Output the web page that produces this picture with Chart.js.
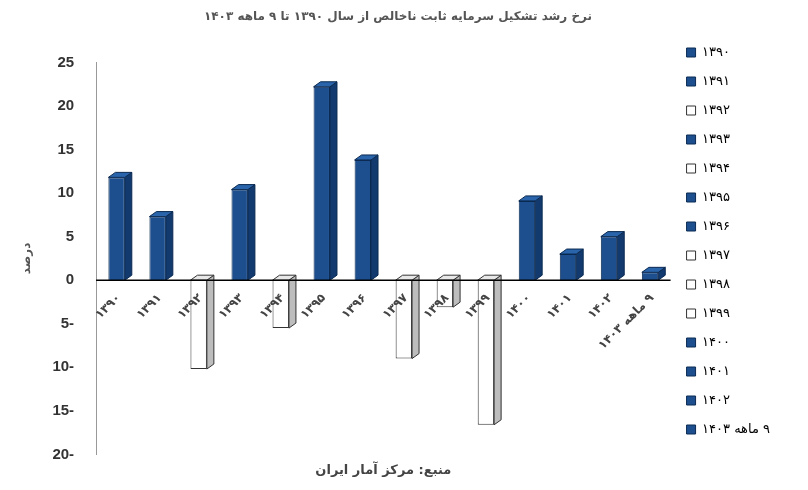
<!DOCTYPE html>
<html>
<head>
<meta charset="utf-8">
<script src="https://cdn.jsdelivr.net/npm/chart.js@4"></script>
<style>
  body { margin: 0; background: #fff; }
  #wrap { width: 808px; height: 490px; }
</style>
</head>
<body>
<div id="wrap"><canvas id="c"></canvas></div>
<script>
// داده‌ها
const years = ['۱۳۹۰','۱۳۹۱','۱۳۹۲','۱۳۹۳','۱۳۹۴','۱۳۹۵','۱۳۹۶','۱۳۹۷','۱۳۹۸','۱۳۹۹','۱۴۰۰','۱۴۰۱','۱۴۰۲','۹ ماهه ۱۴۰۳'];
const growth = [11.8, 7.3, -10.2, 10.4, -5.5, 22.2, 13.8, -9.0, -3.1, -16.6, 9.1, 3.0, 5.0, 0.9];
const yTicks = [25, 20, 15, 10, 5, 0, -5, -10, -15, -20];

const BLUE = '#1d4f8f';
const face = growth.map(v => v >= 0 ? BLUE : '#ffffff');

// رسم حالت سه‌بعدی میله‌ها و برچسب‌های محور افقی کنار خط صفر
const bars3d = {
  id: 'bars3d',
  afterDatasetsDraw(chart) {
    const ctx = chart.ctx;
    const meta = chart.getDatasetMeta(0);
    const dx = 7, dy = -5;
    const zeroY = chart.scales.y.getPixelForValue(0);
    meta.data.forEach((bar, i) => {
      const p = bar.getProps(['x', 'y', 'base', 'width'], true);
      const l = p.x - p.width / 2, r = p.x + p.width / 2;
      const top = Math.min(p.y, p.base), bot = Math.max(p.y, p.base);
      const pos = growth[i] >= 0;
      ctx.save();
      ctx.lineWidth = 1;
      ctx.strokeStyle = pos ? '#0b2a52' : '#333';
      ctx.beginPath();
      ctx.moveTo(r, top); ctx.lineTo(r + dx, top + dy);
      ctx.lineTo(r + dx, bot + dy); ctx.lineTo(r, bot); ctx.closePath();
      ctx.fillStyle = pos ? '#123a6e' : '#bdbdbd';
      ctx.fill(); ctx.stroke();
      ctx.beginPath();
      ctx.moveTo(l, top); ctx.lineTo(l + dx, top + dy);
      ctx.lineTo(r + dx, top + dy); ctx.lineTo(r, top); ctx.closePath();
      ctx.fillStyle = pos ? '#2a64aa' : '#e8e8e8';
      ctx.fill(); ctx.stroke();
      // برچسب
      ctx.translate(p.x + 2, zeroY + 16);
      ctx.rotate(-Math.PI / 4);
      ctx.direction = 'rtl';
      ctx.font = 'bold 12px "DejaVu Sans", sans-serif';
      ctx.fillStyle = '#444';
      ctx.textAlign = 'right';
      ctx.textBaseline = 'middle';
      ctx.fillText(years[i], 0, 0);
      ctx.restore();
    });
    ctx.save();
    ctx.strokeStyle = '#000';
    ctx.lineWidth = 1.5;
    ctx.beginPath();
    ctx.moveTo(chart.chartArea.left, zeroY);
    ctx.lineTo(chart.chartArea.right, zeroY);
    ctx.stroke();
    ctx.restore();
  }
};

new Chart(document.getElementById('c'), {
  type: 'bar',
  data: {
    labels: years,
    datasets: [{
      data: growth,
      backgroundColor: face,
      borderColor: growth.map(v => v >= 0 ? '#0b2a52' : '#333'),
      borderWidth: 1,
      barPercentage: 0.4,
      categoryPercentage: 1
    }]
  },
  options: {
    responsive: true,
    maintainAspectRatio: false,
    animation: false,
    layout: { padding: { top: 4, right: 28, left: 16, bottom: 12 } },
    plugins: {
      title: {
        display: true,
        text: 'نرخ رشد تشکیل سرمایه ثابت ناخالص از سال ۱۳۹۰ تا ۹ ماهه ۱۴۰۳',
        color: '#555',
        font: { size: 12, weight: 'bold', family: '"DejaVu Sans", sans-serif' },
        padding: { top: 6, bottom: 38 }
      },
      legend: {
        position: 'right',
        textDirection: 'rtl',
        labels: {
          boxWidth: 9,
          boxHeight: 9,
          padding: 16,
          color: '#333',
          font: { size: 13, family: '"DejaVu Sans", sans-serif' },
          generateLabels: () => years.map((y, i) => ({
            text: y,
            fillStyle: face[i],
            strokeStyle: growth[i] >= 0 ? '#0b2a52' : '#333',
            lineWidth: 1,
            index: i
          }))
        }
      },
      tooltip: { enabled: false }
    },
    scales: {
      x: {
        grid: { display: false },
        border: { display: false },
        ticks: { display: false },
        title: {
          display: true,
          text: 'منبع: مرکز آمار ایران',
          color: '#444',
          font: { size: 13, weight: 'bold', family: '"DejaVu Sans", sans-serif' },
          padding: { top: 0, bottom: 0 }
        }
      },
      y: {
        min: -20, max: 25,
        afterBuildTicks: s => { s.ticks = yTicks.map(v => ({ value: v })); },
        grid: { display: false },
        border: { display: true, color: '#999' },
        ticks: {
          color: '#333',
          font: { size: 15, weight: 'bold', family: '"Liberation Sans", sans-serif' },
          padding: 14
        },
        title: {
          display: true,
          text: 'درصد',
          color: '#555',
          font: { size: 12, weight: 'bold', family: '"DejaVu Sans", sans-serif' }
        }
      }
    }
  },
  plugins: [bars3d]
});
</script>
</body>
</html>
